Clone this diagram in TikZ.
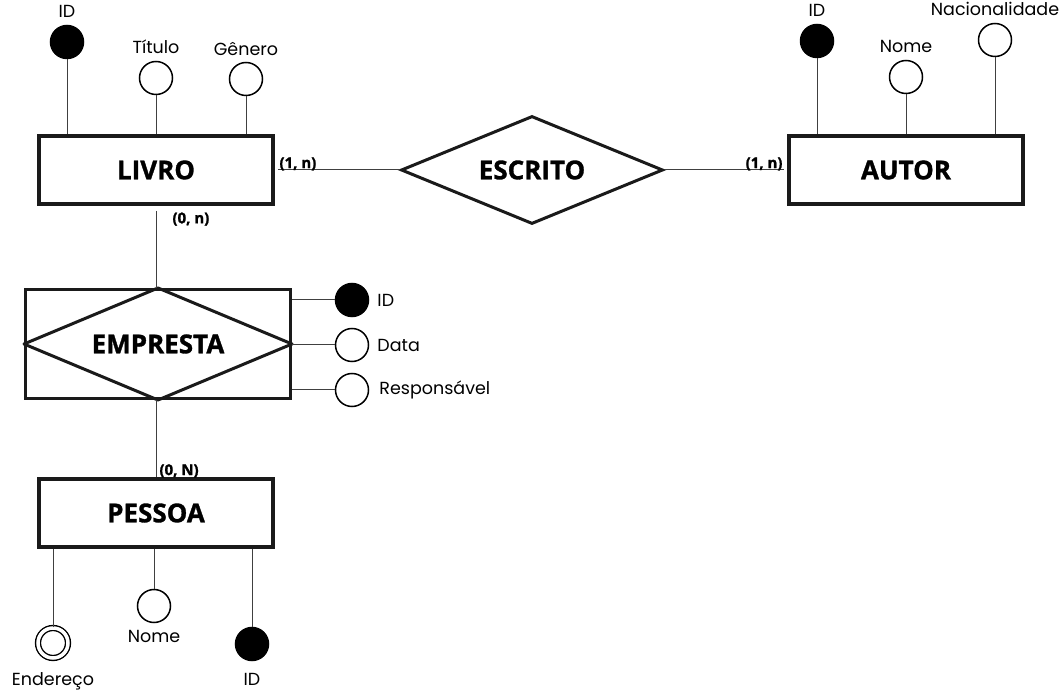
\documentclass[tikz,border=0pt]{standalone}
\usepackage{fontspec}
\setmainfont{Open Sans}[BoldFeatures={FakeBold=1.2}]
\newfontfamily\attrfont{Poppins}
\usetikzlibrary{shapes.geometric}
\definecolor{edgecolor}{HTML}{1A1A1A}
\definecolor{linkcolor}{HTML}{404040}

\begin{document}
\begin{tikzpicture}[
    x=1pt, y=-1pt,
    line join=miter,
    every label/.style={font=\attrfont\fontsize{17.5}{19}\selectfont, inner sep=2pt},
    entity/.style={draw=edgecolor, line width=4pt, rectangle, minimum width=234pt,
        minimum height=68pt, inner sep=0pt, font=\fontsize{26}{28}\selectfont\bfseries},
    relation/.style={draw=edgecolor, line width=3pt, diamond, aspect=2.4, minimum width=262pt,
        minimum height=108pt, inner sep=0pt, font=\fontsize{26}{28}\selectfont\bfseries},
    assoc/.style={draw=edgecolor, line width=3pt, rectangle, minimum width=265pt,
        minimum height=109pt, inner sep=0pt},
    attr/.style={draw=black, line width=1.5pt, circle, minimum size=33pt, inner sep=0pt},
    keyattr/.style={attr, fill=black},
    multiattr/.style={attr, double=white, double distance=3.5pt, line width=1.4pt, minimum size=30pt},
    link/.style={draw=linkcolor, line width=1pt},
    card/.style={font=\fontsize{15}{16}\selectfont\bfseries, inner sep=0pt}
]

    % Page frame
    \useasboundingbox (0,0) rectangle (1061,692);

    % --- Entities and relationships ---
    \node[entity] (livro) at (156,170) {LIVRO};
    \node[entity] (autor) at (906,170) {AUTOR};
    \node[relation] (escrito) at (532,170) {ESCRITO};
    \node[assoc] (empresta) at (158,344) {};
    \draw[edgecolor, line width=3pt, line join=round] (empresta.north) -- (empresta.east)
        -- (empresta.south) -- (empresta.west) -- cycle; % inner diamond
    \node[font=\fontsize{26}{28}\selectfont\bfseries] (emplabel) at (empresta.center) {EMPRESTA};
    \node[entity] (pessoa) at (156,513) {PESSOA};

    % --- LIVRO attributes ---
    \node[keyattr, label={[label distance=5pt]above:ID}] (livroid) at (67,42) {};
    \node[attr, label={[label distance=5pt]above:Título}] (livrotitulo) at (156,78) {};
    \node[attr, label={[label distance=4pt]above:Gênero}] (livrogenero) at (246,79) {};
    \draw[link] (livroid) -- (livroid |- livro.north);
    \draw[link] (livrotitulo) -- (livrotitulo |- livro.north);
    \draw[link] (livrogenero) -- (livrogenero |- livro.north);

    % --- AUTOR attributes ---
    \node[keyattr, label={[label distance=5pt]above:ID}] (autorid) at (817,41) {};
    \node[attr, label={[label distance=5pt]above:Nome}] (autornome) at (906,77) {};
    \node[attr, label={[label distance=5pt]above:Nacionalidade}] (autornac) at (995,40) {};
    \draw[link] (autorid) -- (autorid |- autor.north);
    \draw[link] (autornome) -- (autornome |- autor.north);
    \draw[link] (autornac) -- (autornac |- autor.north);

    % --- EMPRESTA attributes ---
    \node[keyattr, label={[label distance=6pt]right:ID}] (empid) at (352,300) {};
    \node[attr, label={[label distance=6pt]right:Data}] (empdata) at (352,345) {};
    \node[attr, label={[label distance=8pt]right:Responsável}] (empresp) at (352,390) {};
    \draw[link] (empid) -- (empid -| empresta.east);
    \draw[link] (empdata) -- (empdata -| empresta.east);
    \draw[link] (empresp) -- (empresp -| empresta.east);

    % --- PESSOA attributes ---
    \node[multiattr, label={[label distance=12pt]below:Endereço}] (pesend) at (53,643) {};
    \node[attr, label={[label distance=5pt]below:Nome}] (pesnome) at (154,606) {};
    \node[keyattr, label={[label distance=10pt]below:ID}] (pesid) at (252,644) {};
    \draw[link] (pesend) -- (pesend |- pessoa.south);
    \draw[link] (pesnome) -- (pesnome |- pessoa.south);
    \draw[link] (pesid) -- (pesid |- pessoa.south);

    % --- Connectors with cardinalities ---
    \draw[link] ([xshift=3pt]livro.east) -- (escrito.west)
        node[card, pos=0, anchor=south west, xshift=1pt, yshift=-1pt] {(1, n)};
    \draw[link] (escrito.east) -- ([xshift=-3pt]autor.west)
        node[card, pos=1, anchor=south east, xshift=-1pt, yshift=-1pt] {(1, n)};
    \draw[link, shorten <=5pt] (livro.south) -- (livro.south |- empresta.north)
        node[card, pos=0, anchor=north west, xshift=16pt, yshift=-6pt] {(0, n)};
    \draw[link] (empresta.south -| livro.south) -- (pessoa.north)
        node[card, pos=1, anchor=south west, xshift=3pt, yshift=-1pt] {(0, N)};

\end{tikzpicture}
\end{document}
